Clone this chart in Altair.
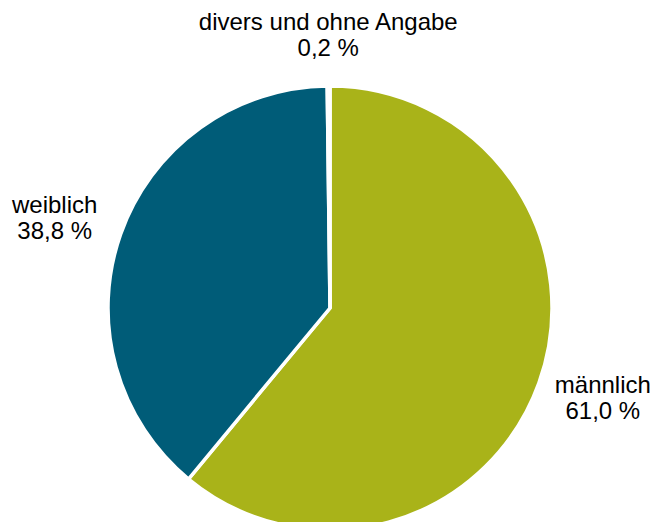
import altair as alt
import pandas as pd

categories = ["männlich", "weiblich", "divers und ohne Angabe"]
values = [61.0, 38.8, 0.2]
colors = ["#a9b319", "#005c78", "#ffffff"]
order = [1, 2, 3]

labels = [f"{c}\n{v:.1f} %".replace(".", ",") for c, v in zip(categories, values)]
df = pd.DataFrame({"cat": categories, "value": values, "ord": order, "label": labels})

cx, cy = 322, 300
theta_scale = alt.Scale(domain=[0, 100])

arcs = alt.Chart(df).mark_arc(outerRadius=222, stroke="white", strokeWidth=3.5).encode(
    theta=alt.Theta("value:Q", stack=True, scale=theta_scale),
    order=alt.Order("ord:Q"),
    x=alt.value(cx),
    y=alt.value(cy),
    color=alt.Color("cat:N", scale=alt.Scale(domain=categories, range=colors), legend=None),
)

def text_layer(cat, r, dy):
    return alt.Chart(df).transform_window(
        cum="sum(value)", sort=[alt.SortField("ord")]
    ).transform_calculate(
        mid="datum.cum - datum.value / 2"
    ).transform_filter(alt.datum.cat == cat).mark_text(
        radius=r, dy=dy, font="Liberation Sans", fontSize=24, lineBreak="\n",
        lineHeight=26, align="center", baseline="middle", color="#000000"
    ).encode(
        theta=alt.Theta("mid:Q", scale=theta_scale),
        x=alt.value(cx),
        y=alt.value(cy),
        text="label:N",
    )

chart = alt.layer(
    arcs,
    text_layer("männlich", 290, -20),
    text_layer("weiblich", 292, -5),
    text_layer("divers und ohne Angabe", 274, -11),
).properties(
    width=644, height=514, padding=0, autosize=alt.AutoSizeParams(type="none")
).configure_view(strokeWidth=0)

chart.save("out.html", embed_options={"renderer": "svg", "actions": False})
